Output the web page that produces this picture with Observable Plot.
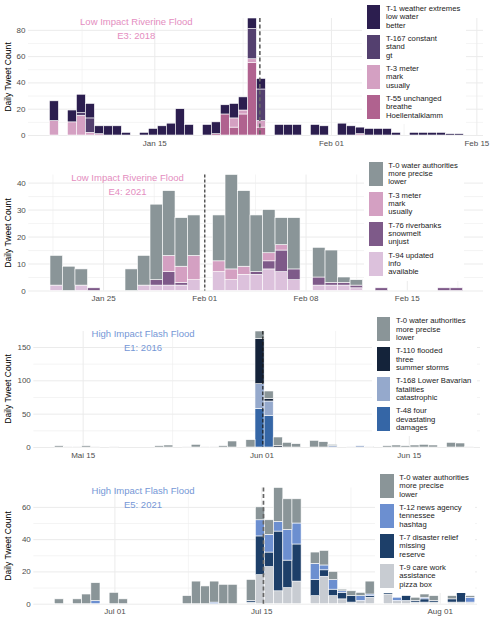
<!DOCTYPE html>
<html><head><meta charset="utf-8">
<script src="https://cdn.jsdelivr.net/npm/d3@7"></script>
<script src="https://cdn.jsdelivr.net/npm/@observablehq/plot@0.6"></script>
<style>
body{margin:0;background:#fff;font-family:"Liberation Sans",Arial,sans-serif;}
#root{position:relative;width:500px;height:621px;overflow:hidden;background:#fff;}
.panel{position:absolute;left:0;width:500px;height:150px;}
.panel svg{position:absolute;left:0;top:0;}
.ytitle{position:absolute;font-size:8.6px;color:#000;white-space:nowrap;transform:translate(-50%,-50%) rotate(-90deg);}
.title{position:absolute;font-size:9.5px;text-align:center;line-height:14px;transform:translateX(-50%);white-space:nowrap;}
.legend{position:absolute;background:#fff;padding:5px 6px 5px 5px;}
.item{display:flex;align-items:flex-start;height:24px;margin-bottom:6px;}
.item:last-child{margin-bottom:0}
.sw{width:13.5px;height:24px;flex:none;margin-right:5.8px;}
.lab{font-size:7.7px;line-height:8.3px;color:#1a1a1a;white-space:pre;}
</style>
</head><body><div id="root"></div>
<script>
// ---------- DATA ----------
// Panel E3 (2018): stack order bottom -> top
const e3Topics = ["T-55", "T-3", "T-167", "T-1"];
const e3T55  = [0,0,0,0,0,0,0,0,0,0, 0,0,0,0,0,0,0,0,1,16, 6,16,55,6,0,0,0,0,0,0, 0,0,0,0,0,0,0,0,0,0, 0,0,0,0,0,0];
const e3T3   = [11,0,10,15,2,1,0,0,0,0, 0,0,0,0,0,0,0,0,0,0, 7,3,3,5,0,0,0,0,0,0, 0,0,0,0,1,0,0,0,0,0, 0,0,0,0,0,0];
const e3T167 = [0,0,0,2,11,0,0,0,0,0, 0,0,0,0,0,0,0,0,0,0, 0,0,23,24,0,0,0,0,0,0, 0,0,0,0,0,0,0,0,0,0, 0,0,0,0,0,0];
const e3T1   = [15,0,9,14,11,6,7,7,2,0, 2,5,7,9,20,8,0,8,9,7, 11,10,8,8,0,8,8,8,0,8, 7,0,9,7,5,5,5,5,2,0, 2,2,2,2,1,1];
const e3Legend = ["T-1 weather extremes\nlow water\nbetter", "T-167 constant\nstand\ngt", "T-3 meter\nmark\nusually", "T-55 unchanged\nbreathe\nHoellentalklamm"];
const e3Title = ["Low Impact Riverine Flood", "E3: 2018"];
const e3TickDates = ["2018-01-15", "2018-02-01", "2018-02-15"];
const e3TickLabels = ["Jan 15", "Feb 01", "Feb 15"];
const e3MinorDates = ["2018-01-08", "2018-01-23T12:00Z", "2018-02-08"];
const e3YTicks = [0, 20, 40, 60, 80];
const e3YMinor = [10, 30, 50, 70];

// Panel E4 (2021)
const e4Topics = ["T-94", "T-76", "T-3", "T-0"];
const e4T94 = [2,0,2,0,0,0,0,2,2,2, 2,4,0,7,4,6,6,8,7,4, 0,2,2,2,1,0,0,0,0,0, 0,0,0];
const e4T76 = [0,0,0,1,0,0,0,0,2,5, 1,0,0,0,0,0,1,3,8,4, 0,3,1,1,1,0,1,0,0,0, 0,1,1];
const e4T3  = [0,0,0,0,0,0,0,0,0,6, 6,9,0,4,4,3,0,3,2,0, 0,0,0,0,0,0,0,0,0,0, 0,0,0];
const e4T0  = [11,9,6,0,0,0,8,11,28,24, 18,15,0,17,35,28,21,16,10,19, 0,11,12,2,2,0,0,0,0,0, 0,0,0];
const e4Legend = ["T-0 water authorities\nmore precise\nlower", "T-3 meter\nmark\nusually", "T-76 riverbanks\nsnowmelt\nunjust", "T-94 updated\ninfo\navailable"];
const e4Title = ["Low Impact Riverine Flood", "E4: 2021"];
const e4TickDates = ["2021-01-25", "2021-02-01", "2021-02-08", "2021-02-15"];
const e4TickLabels = ["Jan 25", "Feb 01", "Feb 08", "Feb 15"];
const e4MinorDates = ["2021-01-21T12:00Z", "2021-01-28T12:00Z", "2021-02-04T12:00Z", "2021-02-11T12:00Z", "2021-02-18T12:00Z"];
const e4YTicks = [0, 10, 20, 30, 40];
const e4YMinor = [5, 15, 25, 35];

// Panel E1 (2016)
const e1Topics = ["T-48", "T-168", "T-110", "T-0"];
const e1T48  = [0,0,0,0,0,0,0,0,0,0, 0,0,0,0,0,0,0,0,0,0, 0,0,58,47,0,0,0,0,0,0, 0,0,0,0,0,0,0,0,0,0, 0,0,0,0,0,0];
const e1T168 = [0,0,0,0,0,0,0,0,0,0, 0,0,0,0,0,0,0,0,0,0, 0,0,37,22,0,0,0,0,0,0, 2,0,0,2,0,0,0,0,0,0, 0,0,0,0,0,0];
const e1T110 = [0,0,0,0,0,0,0,0,0,0, 0,0,0,0,0,0,0,0,0,0, 0,0,68,4,2,0,0,0,0,0, 0,0,0,0,0,0,0,0,0,0, 0,0,0,0,0,0];
const e1T0   = [2,1,1,2,1,0,1,0,0,0, 0,2,3,0,1,4,1,1,2,9, 0,11,11,11,13,7,5,0,10,8, 2,0,1,0,1,0,2,3,2,3, 4,3,0,7,6,1];
const e1Legend = ["T-0 water authorities\nmore precise\nlower", "T-110 flooded\nthree\nsummer storms", "T-168 Lower Bavarian\nfatalities\ncatastrophic", "T-48 four\ndevastating\ndamages"];
const e1Title = ["High Impact Flash Flood", "E1: 2016"];
const e1TickDates = ["2016-05-15", "2016-06-01", "2016-06-15"];
const e1TickLabels = ["Mai 15", "Jun 01", "Jun 15"];
const e1MinorDates = ["2016-05-23T12:00Z", "2016-06-08"];
const e1YTicks = [0, 50, 100, 150];
const e1YMinor = [25, 75, 125];

// Panel E5 (2021)
const e5Topics = ["T-9", "T-7", "T-12", "T-0"];
const e5T9  = [0,0,0,0,0,0,0,0,0,0, 0,0,0,0,0,0,0,0,0,0, 0,1,18,23,8,10,14,0,5,17, 5,3,1,2,4,0,6,2,2,1, 1,1,0,1,1,1];
const e5T7  = [0,0,0,0,0,0,0,0,0,0, 0,0,0,0,0,0,0,0,0,0, 0,1,24,9,37,17,23,0,10,4, 4,4,4,0,1,0,1,0,3,1, 2,1,0,2,6,0];
const e5T12 = [0,0,0,0,2,0,0,0,0,0, 0,0,0,0,0,0,0,1,0,0, 0,0,10,11,6,19,13,0,10,3, 6,1,0,3,1,0,0,2,0,0, 1,0,0,0,0,3];
const e5T0  = [3,0,3,6,11,0,7,3,0,0, 0,0,0,0,5,14,11,13,12,12, 0,13,8,9,21,19,15,0,7,9, 5,1,3,2,8,0,0,0,0,2, 2,3,0,2,0,1];
const e5Legend = ["T-0 water authorities\nmore precise\nlower", "T-12 news agency\ntennessee\nhashtag", "T-7 disaster relief\nmissing\nreserve", "T-9 care work\nassistance\npizza box"];
const e5Title = ["High Impact Flash Flood", "E5: 2021"];
const e5TickDates = ["2021-07-01", "2021-07-15", "2021-08-01"];
const e5TickLabels = ["Jul 01", "Jul 15", "Aug 01"];
const e5MinorDates = ["2021-07-08", "2021-07-23T12:00Z"];
const e5YTicks = [0, 20, 40, 60];
const e5YMinor = [10, 30, 50];

const yTitle = "Daily Tweet Count";

// ---------- RENDER ----------
const DAY = 864e5;
const at = (base, days) => new Date(Date.parse(base) + days * DAY);
const root = document.getElementById("root");

const panels = [
  {top: 0, ml: 28, mr: 17, mt: 18, mb: 15, anchor: "2018-01-15", dom: [-12.16, 31.64], binStart: -10.10, binWidth: 0.8662, event: 10.11,
   ymax: 89, topics: e3Topics, series: [e3T55, e3T3, e3T167, e3T1],
   colors: ["#b0628f", "#d4a0c2", "#54406f", "#2c1e4f"],
   legend: e3Legend, title: e3Title, titleColor: "#e48dc0", titleX: 136.3, titleTop: 15.3,
   ticks: e3TickDates, labels: e3TickLabels, minor: e3MinorDates, yt: e3YTicks, ym: e3YMinor,
   dash: {stroke: "#666", strokeWidth: 1.7, strokeDasharray: "4,2.6"}, legendPos: [361.7, 0]},
  {top: 155, ml: 28.3, mr: 17, mt: 19.5, mb: 14.5, anchor: "2021-02-01", dom: [-12.17, 19.27], binStart: -10.67, binWidth: 0.8645, event: 0,
   ymax: 43, topics: e4Topics, series: [e4T94, e4T76, e4T3, e4T0],
   colors: ["#dcc1dc", "#7e5a89", "#d4a0c2", "#8a9598"],
   legend: e4Legend, title: e4Title, titleColor: "#e48dc0", titleX: 127.5, titleTop: 171.3,
   ticks: e4TickDates, labels: e4TickLabels, minor: e4MinorDates, yt: e4YTicks, ym: e4YMinor,
   dash: {stroke: "#222", strokeWidth: 1.1, strokeDasharray: "3,2"}, legendPos: [364, 156.7]},
  {top: 312, ml: 33.3, mr: 20, mt: 19, mb: 15, anchor: "2016-06-01", dom: [-21.69, 20.77], binStart: -19.69, binWidth: 0.8669, event: 0.08,
   ymax: 174, topics: e1Topics, series: [e1T48, e1T168, e1T110, e1T0],
   colors: ["#3566a6", "#95a9cc", "#14233a", "#8a9598"],
   legend: e1Legend, title: e1Title, titleColor: "#7597d6", titleX: 143, titleTop: 327.3,
   ticks: e1TickDates, labels: e1TickLabels, minor: e1MinorDates, yt: e1YTicks, ym: e1YMinor,
   dash: {stroke: "#1a1a1a", strokeWidth: 1.1, strokeDasharray: "3.5,2"}, legendPos: [371.7, 312.3]},
  {top: 468, ml: 33.3, mr: 23, mt: 19.5, mb: 14.3, anchor: "2021-07-15", dom: [-21.73, 20.56], binStart: -19.73, binWidth: 0.8713, event: 0.16,
   ymax: 72, topics: e5Topics, series: [e5T9, e5T7, e5T12, e5T0],
   colors: ["#c8ccd2", "#1d3f69", "#6c8fd0", "#8a9598"],
   legend: e5Legend, title: e5Title, titleColor: "#7597d6", titleX: 143, titleTop: 484,
   ticks: e5TickDates, labels: e5TickLabels, minor: e5MinorDates, yt: e5YTicks, ym: e5YMinor,
   dash: {stroke: "#666", strokeWidth: 1.7, strokeDasharray: "4,2.6"}, legendPos: [375, 469]}
];

for (const p of panels) {
  const rows = [];
  p.topics.forEach((topic, k) => {
    p.series[k].forEach((v, i) => {
      if (v > 0) rows.push({
        topic, count: v,
        x1: at(p.anchor, p.binStart + i * p.binWidth),
        x2: at(p.anchor, p.binStart + (i + 1) * p.binWidth)
      });
    });
  });
  const x0 = at(p.anchor, p.dom[0]), x1 = at(p.anchor, p.dom[1]);
  const inDom = d => d >= x0 && d <= x1;
  const majors = p.ticks.map(d => new Date(Date.parse(d)));
  const minors = p.minor.map(d => new Date(Date.parse(d))).filter(inDom);
  const labelMap = new Map(majors.map((d, i) => [+d, p.labels[i]]));
  const H = 150;

  const svg = Plot.plot({
    width: 500, height: H,
    marginLeft: p.ml, marginRight: p.mr, marginTop: p.mt, marginBottom: p.mb,
    style: {fontFamily: "Liberation Sans, Arial, sans-serif", fontSize: "8px", background: "transparent"},
    x: {type: "utc", domain: [x0, x1]},
    y: {domain: [0, p.ymax]},
    color: {domain: p.topics, range: p.colors},
    marks: [
      Plot.ruleY(p.ym, {stroke: "#ededed", strokeWidth: 0.6}),
      Plot.ruleY(p.yt, {stroke: "#ebebeb", strokeWidth: 1}),
      Plot.ruleX(minors, {stroke: "#ededed", strokeWidth: 0.6}),
      Plot.ruleX(majors.filter(inDom), {stroke: "#ebebeb", strokeWidth: 1}),
      Plot.rectY(rows, {x1: "x1", x2: "x2", y: "count", fill: "topic", order: p.topics, stroke: "white", strokeWidth: 0.6}),
      Plot.ruleX([at(p.anchor, p.event)], p.dash),
      Plot.axisX(majors, {tickSize: 0, tickPadding: 4.5, fontSize: 8, fill: "#4d4d4d", label: null, tickFormat: d => labelMap.get(+d)}),
      Plot.axisY(p.yt, {tickSize: 0, tickPadding: 3, fontSize: 8, fill: "#4d4d4d", label: null})
    ]
  });

  const wrap = document.createElement("div");
  wrap.className = "panel";
  wrap.style.top = p.top + "px";
  wrap.appendChild(svg);
  root.appendChild(wrap);

  // y-axis title
  const yt = document.createElement("div");
  yt.className = "ytitle";
  yt.textContent = yTitle;
  yt.style.left = "8.3px";
  yt.style.top = (p.top + p.mt + (H - p.mt - p.mb) / 2) + "px";
  root.appendChild(yt);

  // panel title
  const t = document.createElement("div");
  t.className = "title";
  t.style.left = p.titleX + "px";
  t.style.top = p.titleTop + "px";
  t.style.color = p.titleColor;
  t.innerHTML = p.title.map(s => `<div>${s}</div>`).join("");
  root.appendChild(t);

  // legend (top -> bottom = stack top -> bottom)
  const lg = document.createElement("div");
  lg.className = "legend";
  lg.style.left = p.legendPos[0] + "px";
  lg.style.top = p.legendPos[1] + "px";
  const legendColors = p.colors.slice().reverse();
  p.legend.forEach((lab, i) => {
    const it = document.createElement("div");
    it.className = "item";
    const sw = document.createElement("div");
    sw.className = "sw";
    sw.style.background = legendColors[i];
    const tx = document.createElement("div");
    tx.className = "lab";
    tx.textContent = lab;
    it.appendChild(sw); it.appendChild(tx);
    lg.appendChild(it);
  });
  root.appendChild(lg);
}
</script>
</body></html>
